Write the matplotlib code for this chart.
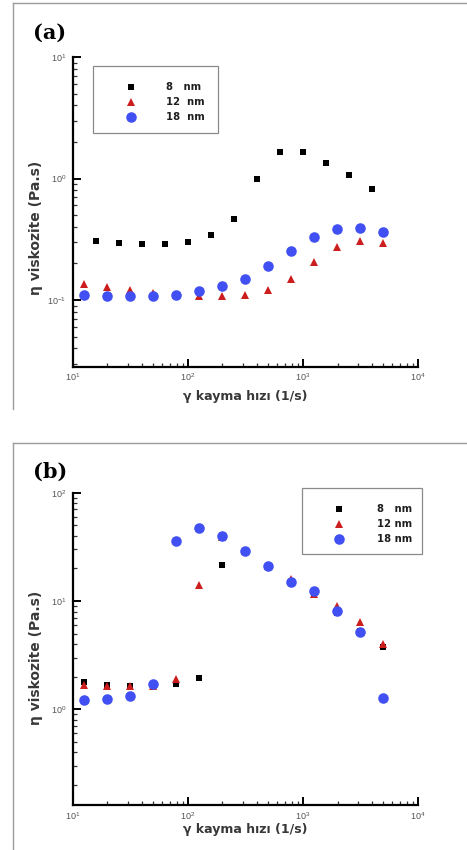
import matplotlib
matplotlib.use("Agg")
import matplotlib.pyplot as plt
from matplotlib.lines import Line2D
from matplotlib.patches import Rectangle
from matplotlib.ticker import LogLocator, LogFormatterSciNotation, NullFormatter

plt.rcParams.update(
    {
        "font.family": ["Liberation Sans", "DejaVu Sans"],
        "mathtext.fontset": "custom",
        "mathtext.rm": "Liberation Sans",
        "axes.spines.top": False,
        "axes.spines.right": False,
    }
)

# shear rate (1/s)
rate_8_a = [15.8, 25.1, 39.8, 63.1, 100, 158, 251, 398, 631, 1000, 1585, 2512, 3981]
rate = [12.6, 20.0, 31.6, 50.1, 79.4, 126, 200, 316, 501, 794, 1259, 1995, 3162, 5012]

# viscosity (Pa.s), panel (a)
visc_8_a = [0.306, 0.293, 0.287, 0.289, 0.302, 0.341, 0.464, 0.985, 1.64, 1.64, 1.35, 1.07, 0.824]
visc_12_a = [0.135, 0.127, 0.122, 0.114, 0.110, 0.108, 0.109, 0.111, 0.122, 0.150, 0.206, 0.275, 0.306, 0.296]
visc_18_a = [0.110, 0.108, 0.108, 0.108, 0.111, 0.119, 0.130, 0.150, 0.191, 0.255, 0.330, 0.386, 0.391, 0.365]

# viscosity (Pa.s), panel (b)
visc_8_b = [1.80, 1.69, 1.64, 1.66, 1.73, 1.96, 21.6, 29.0, 21.1, 15.0, 11.3, 7.76, 5.26, 3.75]
visc_12_b = [1.69, 1.66, 1.64, 1.66, 1.89, 14.1, 38.8, 29.0, 21.0, 16.1, 11.7, 8.93, 6.37, 3.97]
visc_18_b = [1.22, 1.24, 1.33, 1.72, 36.2, 47.6, 39.9, 29.1, 21.1, 15.0, 12.4, 8.15, 5.19, 1.26]

labels_a = ["8   nm", "12  nm", "18  nm"]
labels_b = ["8   nm", "12 nm", "18 nm"]

W, H = 467, 850
RED = "#cc1e1e"
BLUE = "#4150f2"
LABEL_FONT = dict(family="DejaVu Sans", fontweight="bold", color="#383838")
STYLES = [
    dict(marker="s", color="black", ms=5.0),
    dict(marker="^", color=RED, ms=6.0),
    dict(marker="o", color=BLUE, ms=7.6),
]


def fx(px):
    return px / W


def fy(py):
    return 1 - py / H


def frame_lines(fig, top, bottom):
    kw = dict(transform=fig.transFigure, color="#9c9c9c", lw=1.0)
    fig.add_artist(Line2D([fx(12.7), fx(12.7)], [fy(top), fy(bottom)], **kw))
    fig.add_artist(Line2D([fx(12.7), 1.0], [fy(top), fy(top)], **kw))


def make_axes(fig, top, bottom, ylim):
    ax = fig.add_axes([fx(72.7), fy(bottom), fx(418) - fx(72.7), fy(top) - fy(bottom)])
    ax.set_xscale("log")
    ax.set_yscale("log")
    ax.set_xlim(10, 1e4)
    ax.set_ylim(*ylim)
    for side in ("left", "bottom"):
        ax.spines[side].set_linewidth(1.6)
    for axis in (ax.xaxis, ax.yaxis):
        axis.set_major_locator(LogLocator(base=10, numticks=10))
        axis.set_minor_locator(LogLocator(base=10, subs=range(2, 10), numticks=20))
        axis.set_major_formatter(LogFormatterSciNotation())
        axis.set_minor_formatter(NullFormatter())
    ax.tick_params(which="major", direction="in", length=5.8, width=1.4,
                   labelsize=6.5, labelcolor="#555555")
    ax.tick_params(axis="x", which="major", pad=3.5)
    ax.tick_params(axis="y", which="major", pad=4.5)
    ax.tick_params(which="minor", direction="in", length=3.2, width=0.9, color="#333333")
    return ax


def draw_series(ax, series):
    for (x, y), st in zip(series, STYLES):
        ax.plot(x, y, linestyle="none", marker=st["marker"], color=st["color"],
                markersize=st["ms"], markeredgewidth=0)


def axis_labels(ax, xlabel_y, ylabel_y):
    ax.set_xlabel("γ kayma hızı (1/s)", fontsize=9, va="center", **LABEL_FONT)
    ax.set_ylabel("η viskozite (Pa.s)", fontsize=10, va="center", **LABEL_FONT)
    ax.xaxis.set_label_coords(0.5, xlabel_y)
    ax.yaxis.set_label_coords(-0.105, ylabel_y)


def legend_box(fig, box, marker_x, text_x, rows_y, labels):
    x0, y0, x1, y1 = box
    fig.add_artist(Rectangle((fx(x0), fy(y1)), fx(x1) - fx(x0), fy(y0) - fy(y1),
                             transform=fig.transFigure, fill=False,
                             edgecolor="#8a8a8a", lw=0.9))
    for ry, label, st in zip(rows_y, labels, STYLES):
        fig.add_artist(Line2D([fx(marker_x)], [fy(ry)], transform=fig.transFigure,
                              marker=st["marker"], color=st["color"],
                              markersize=st["ms"], markeredgewidth=0, linestyle="none"))
        fig.text(fx(text_x), fy(ry), label, ha="left", va="center",
                 fontsize=7.2, family="DejaVu Sans", fontweight="bold", color="#1e1e1e")


fig = plt.figure(figsize=(W / 100, H / 100), dpi=100)

# panel (a)
frame_lines(fig, 3.3, 409)
ax_a = make_axes(fig, 57, 366.7, (0.0283, 10))
draw_series(ax_a, [(rate_8_a, visc_8_a), (rate, visc_12_a), (rate, visc_18_a)])
axis_labels(ax_a, -0.095, 0.448)
fig.text(fx(33), fy(32.5), "(a)", family="DejaVu Serif", fontweight="bold",
         fontsize=15, ha="left", va="center")
legend_box(fig, (92.7, 66, 218.3, 132.7), 131, 166.5, (87.3, 101.7, 116.7), labels_a)

# panel (b)
frame_lines(fig, 443.3, 851)
ax_b = make_axes(fig, 492.7, 805, (0.131, 100))
draw_series(ax_b, [(rate, visc_8_b), (rate, visc_12_b), (rate, visc_18_b)])
axis_labels(ax_b, -0.080, 0.472)
fig.text(fx(33), fy(471.5), "(b)", family="DejaVu Serif", fontweight="bold",
         fontsize=15, ha="left", va="center")
legend_box(fig, (301.7, 488.3, 422.3, 554.3), 339, 376.7, (509.3, 524.3, 539.3), labels_b)

fig.savefig("out.png", dpi=100)
